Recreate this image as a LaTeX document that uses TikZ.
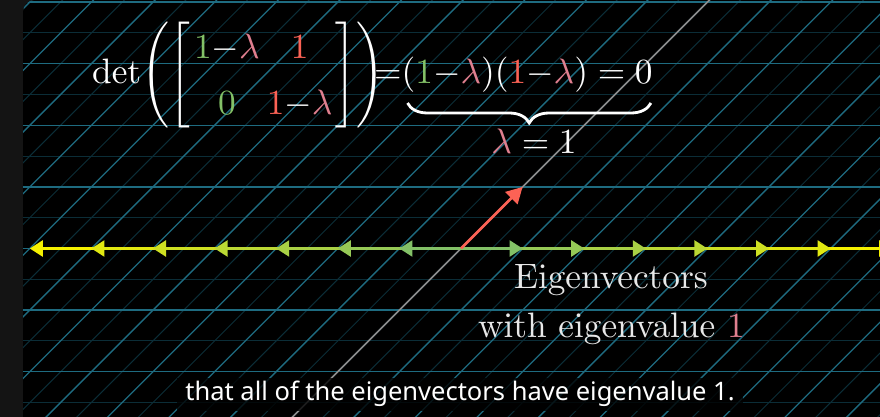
\documentclass[tikz,border=0pt]{standalone}
\usepackage{amsmath}
\usepackage{graphicx}
\usepackage[no-math]{fontspec}
\newfontfamily\subfont{Noto Sans}
\usetikzlibrary{arrows.meta,decorations.pathreplacing,calc}
\font\labfont=cmr10 at 35.3pt
\newcommand\eqscale{3.53}
\newcommand\dl[1]{\mathopen{\hbox{$\nulldelimiterspace=0pt\left#1\vcenter to 31pt{}\right.$}}}
\newcommand\dr[1]{\mathclose{\hbox{$\nulldelimiterspace=0pt\left.\vcenter to 31pt{}\right#1$}}}
\definecolor{bgstrip}{HTML}{141414}
\definecolor{gridmain}{HTML}{1E6B80}
\definecolor{gridfaint}{HTML}{0B2D37}
\definecolor{mgreen}{HTML}{83C167}
\definecolor{mred}{HTML}{FC6255}
\definecolor{mpink}{HTML}{E07F8F}
\definecolor{myellow}{HTML}{F4F000}
\definecolor{axisgray}{HTML}{8C8C8C}
\definecolor{textgray}{HTML}{E8E8E8}
\begin{document}
\begin{tikzpicture}[x=1pt,y=-1pt,
  mainline/.style={gridmain,line width=1.3pt},
  faintline/.style={gridfaint,line width=1pt},
  eigarrow/.style={line width=2.4pt,-{Triangle[length=13pt,width=16pt]}},
  mathtxt/.style={white,inner sep=0pt,font=\fontsize{10}{12}\selectfont},
  labeltxt/.style={textgray,inner sep=0pt,font=\labfont},
  subbox/.style={fill=black,fill opacity=0.8,text opacity=1,text=white,inner xsep=8pt,
    minimum height=33pt,font=\subfont\fontsize{25.5}{30}\selectfont}]
\useasboundingbox (0,0) rectangle (880,417);
\fill[bgstrip] (0,0) rectangle (880,417);
\fill[black,rounded corners=12pt] (23,0) rectangle (900,440);
\coordinate (O) at (461,248.5);
\begin{scope}
\clip[rounded corners=12pt] (23,0) rectangle (900,440);
% faint lines
\foreach \k in {-4,...,4}{
  \draw[faintline] (23,{248.5-61.6*(\k+0.5)}) -- (880,{248.5-61.6*(\k+0.5)});
}
\foreach \k in {-13,...,10}{
  \draw[faintline] ({461+61.6*(\k+0.5)-200},{248.5+200}) -- ({461+61.6*(\k+0.5)+270},{248.5-270});
}
% main lines
\foreach \k in {-3,...,4}{
  \draw[mainline] (23,{248.5-61.6*\k}) -- (880,{248.5-61.6*\k});
}
\foreach \k in {-12,...,10}{
  \draw[mainline] ({461+61.6*\k-200},{248.5+200}) -- ({461+61.6*\k+270},{248.5-270});
}
% transformed y-axis
\draw[axisgray,line width=1.5pt] ($(O)+(-200,200)$) -- ($(O)+(270,-270)$);
% eigenvectors along the x-axis
\foreach \k in {7,6,...,1}{
  \pgfmathsetmacro{\p}{(\k-1)/6*100}
  \colorlet{vc}{myellow!\p!mgreen}
  \coordinate (R\k) at ($(O)+(61.6*\k,0)$);
  \coordinate (L\k) at ($(O)+(-61.6*\k,0)$);
  \draw[eigarrow,vc] (O) -- (R\k);
  \draw[eigarrow,vc] (O) -- (L\k);
}
% red vector
\coordinate (V) at ($(O)+(61.6,-61.6)$);
\draw[mred,line width=2.6pt,-{Triangle[length=16pt,width=17pt]}] (O) -- (V);
\end{scope}
% equation
\node[mathtxt,anchor=base west] (eqA) at (92,84)
  {\scalebox{\eqscale}{$\renewcommand{\arraystretch}{1.325}\det\dl(\dl[\begin{array}{@{\hspace{1.2pt}}c@{\hspace{2pt}}c@{\hspace{1pt}}}
  {\color{mgreen}1}{-}{\color{mpink}\lambda} & {\color{mred}1}\\
  {\color{mgreen}0} & {\color{mred}1}{-}{\color{mpink}\lambda}
  \end{array}\dr]\dr)$}};
\node[mathtxt,anchor=base west] (eqE) at (374,84) {\scalebox{\eqscale}{$=$}};
\node[mathtxt,anchor=base west] (eqB) at (401.5,84)
  {\scalebox{\eqscale}{$({\color{mgreen}1}{-}{\color{mpink}\lambda})({\color{mred}1}{-}{\color{mpink}\lambda})=0$}};
\coordinate (bl) at (0,103);
\draw[white,line width=2.8pt,decorate,decoration={brace,mirror,amplitude=20pt}]
  ([xshift=6pt]eqB.south west |- bl) -- ([xshift=-2pt]eqB.south east |- bl);
\node[mathtxt,anchor=base] (lam) at (534,153)
  {\scalebox{\eqscale}{${\color{mpink}\lambda}=1$}};
% labels
\node[labeltxt,anchor=base] (lab1) at (611,288) {Eigenvectors};
\node[labeltxt,anchor=base] (lab2) at (611.5,337) {with eigenvalue {\color{mpink}1}};
% subtitle
\node[subbox] (sub) at (460,394) {that all of the eigenvectors have eigenvalue 1.};
\end{tikzpicture}
\end{document}
